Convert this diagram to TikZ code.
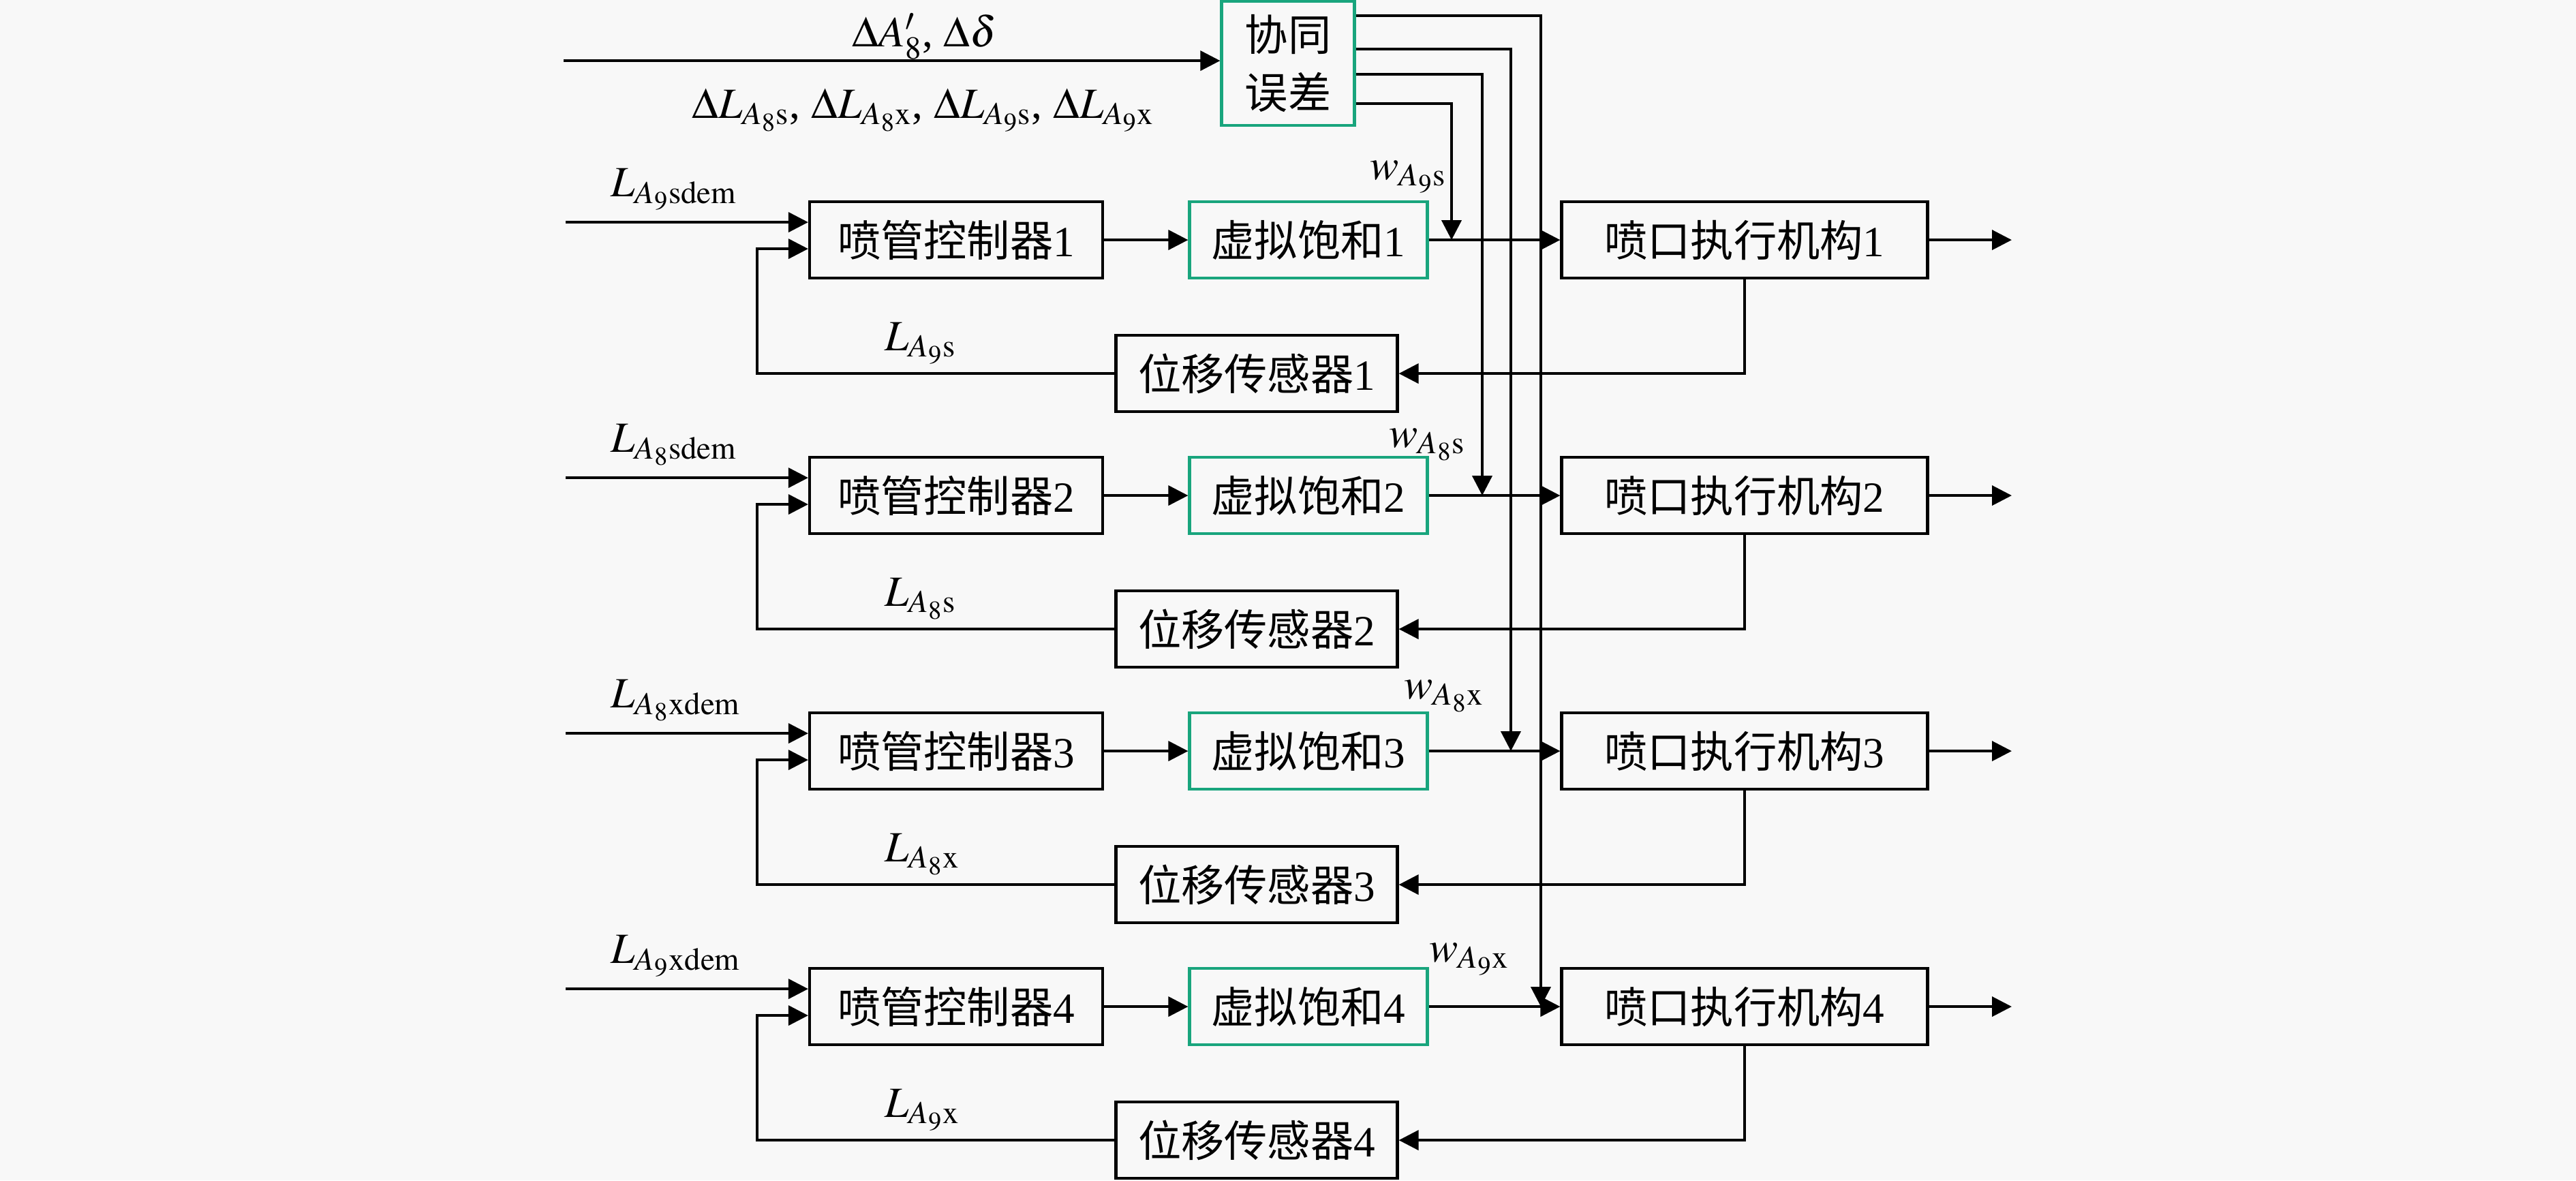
\documentclass[tikz,border=0pt]{standalone}
\usepackage{mathptmx}
\usepackage{fontspec}
\setmainfont{Liberation Serif}
\newfontfamily\cjk{Noto Sans CJK SC}
\usetikzlibrary{arrows.meta}
\definecolor{satgreen}{RGB}{25,165,125}
\definecolor{bg}{RGB}{248,248,248}
\tikzset{
  blk/.style={draw, line width=1.2pt, minimum height=1.12cm, inner sep=0pt},
  sig/.style={line width=1.1pt, -{Triangle[length=2.9mm,width=2.9mm]}},
  lbl/.style={inner sep=0pt},
}

\begin{document}
\begin{tikzpicture}[x=1cm, y=-1cm, font=\fontsize{18}{24}\selectfont]
  \fill[bg] (0,0) rectangle (37.8,17.32);
  \node[blk, draw=satgreen, minimum width=1.95cm, minimum height=1.82cm, align=center] (err) at (18.9,0.93) {{\cjk 协同}\\{\cjk 误差}};
  \coordinate (top) at (8.27,0.89);
  \draw[sig] (top) -- (top -| err.west);
  \node[lbl, anchor=base west] (devA) at (12.5,0.68) {$\Delta A'_8$, $\Delta\delta$};
  \node[lbl, anchor=base west] (devL) at (10.15,1.73) {$\Delta L_{A_8\mathrm{s}}$, $\Delta L_{A_8\mathrm{x}}$, $\Delta L_{A_9\mathrm{s}}$, $\Delta L_{A_9\mathrm{x}}$};
  \foreach \i/\r/\vx/\vy/\wx/\wy/\rl/\fl in {
    1/3.52/21.30/1.52/20.10/2.63/A_9\mathrm{sdem}/A_9\mathrm{s},
    2/7.27/21.75/1.09/20.38/6.56/A_8\mathrm{sdem}/A_8\mathrm{s},
    3/11.02/22.17/0.72/20.60/10.25/A_8\mathrm{xdem}/A_8\mathrm{x},
    4/14.77/22.61/0.23/20.97/14.11/A_9\mathrm{xdem}/A_9\mathrm{x}}
  {
    \node[blk, minimum width=4.3cm] (ctrl\i) at (14.03,\r) {{\cjk 喷管控制器}\i};
    \node[blk, draw=satgreen, minimum width=3.49cm] (sat\i) at (19.2,\r) {{\cjk 虚拟饱和}\i};
    \node[blk, minimum width=5.37cm] (act\i) at (25.6,\r) {{\cjk 喷口执行机构}\i};
    \node[blk, minimum width=4.13cm] (sens\i) at (18.44,\r+1.96) {{\cjk 位移传感器}\i};
    \coordinate (in\i) at (8.3,\r-0.26);
    \coordinate (fb\i) at (11.11,\r+0.13);
    \coordinate (out\i) at (29.52,\r);
    \coordinate (tap\i) at (\vx,\vy);
    \node[lbl, anchor=base west] (reflab\i) at (8.96,\r-0.64) {$L_{\rl}$};
    \node[lbl, anchor=base west] (fblab\i) at (12.98,\r+1.62) {$L_{\fl}$};
    \node[lbl, anchor=base west] (wlab\i) at (\wx,\wy) {$w_{\fl}$};
    \draw[sig] (in\i) -- (in\i -| ctrl\i.west);
    \draw[sig] (ctrl\i) -- (sat\i);
    \draw[sig] (sat\i) -- (act\i);
    \draw[sig] (act\i) -- (out\i);
    \draw[sig] (act\i.south) |- (sens\i.east);
    \draw[sig] (sens\i.west) -| (fb\i) -- (fb\i -| ctrl\i.west);
    \draw[sig] (err.east |- tap\i) -- (tap\i) -- (tap\i |- sat\i);
  }
\end{tikzpicture}
\end{document}
